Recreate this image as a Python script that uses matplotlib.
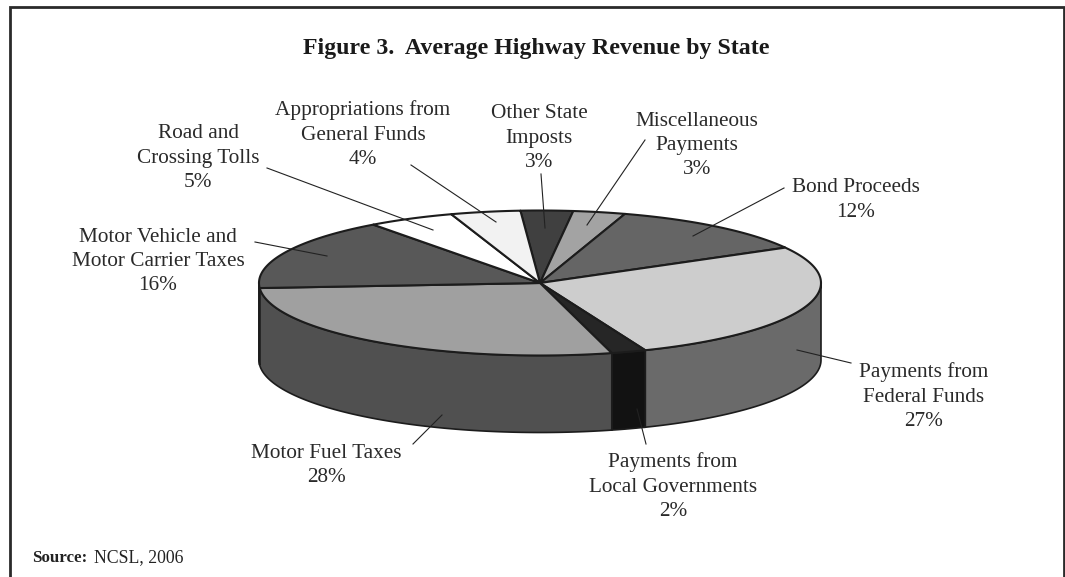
import matplotlib
matplotlib.use('Agg')
import matplotlib.pyplot as plt
import numpy as np

plt.rcParams['font.family'] = ['Liberation Serif', 'DejaVu Serif']

# clockwise from the top of the pie
names = ['Other State\nImposts', 'Miscellaneous\nPayments', 'Bond Proceeds',
         'Payments from\nFederal Funds', 'Payments from\nLocal Governments',
         'Motor Fuel Taxes', 'Motor Vehicle and\nMotor Carrier Taxes',
         'Road and\nCrossing Tolls', 'Appropriations from\nGeneral Funds']
shares = [3, 3, 12, 27, 2, 28, 16, 5, 4]

top_colors = ['#404040', '#a3a3a3', '#656565', '#cdcdcd', '#262626',
              '#a0a0a0', '#585858', '#ffffff', '#f2f2f2']
side_colors = ['#404040', '#a3a3a3', '#656565', '#6a6a6a', '#121212',
               '#505050', '#585858', '#ffffff', '#f2f2f2']

# label centre x, first line y, and leader line
label_x = [539, 697, 856, 924, 673, 326, 158, 198, 363]
label_y = [113, 120, 187, 372, 462, 452, 236, 133, 110]
leaders = [((541, 174), (545, 228)), ((645, 140), (587, 225)),
           ((784, 188), (693, 236)), ((851, 363), (797, 350)),
           ((646, 444), (637, 409)), ((413, 444), (442, 415)),
           ((255, 242), (327, 256)), ((267, 168), (433, 230)),
           ((411, 165), (496, 222))]

cx, cy, rx, ry, depth = 540, 283, 281, 72.5, 77
start = -4.0
line_h = 24.2
ink = '#1c1c1c'


def ellipse(a, dy=0):
    a = np.radians(a)
    return cx + rx * np.sin(a), cy - ry * np.cos(a) + dy


fig = plt.figure(figsize=(10.65, 5.77), dpi=100)
ax = fig.add_axes([0, 0, 1, 1])
ax.set_xlim(0, 1065)
ax.set_ylim(577, 0)
ax.axis('off')

# frame, open at the bottom
ax.plot([10, 10, 1063.5, 1063.5], [577, 7, 7, 577], color='#2a2a2a', lw=2,
        solid_joinstyle='miter')

edges = start + np.cumsum([0] + shares) * 3.6

# side wall, only the part facing the viewer
for i in range(len(shares)):
    a0, a1 = max(edges[i], 90), min(edges[i + 1], 270)
    if a1 <= a0:
        continue
    t = np.linspace(a0, a1, 120)
    x, y = ellipse(t)
    x2, y2 = ellipse(t[::-1], depth)
    ax.fill(np.r_[x, x2], np.r_[y, y2], facecolor=side_colors[i],
            edgecolor=ink, lw=1.2, zorder=2)

# top face
for i in range(len(shares)):
    t = np.linspace(edges[i], edges[i + 1], 120)
    x, y = ellipse(t)
    ax.fill(np.r_[cx, x], np.r_[cy, y], facecolor=top_colors[i],
            edgecolor=ink, lw=1.5, joinstyle='round', zorder=3)

# leader lines and labels
for i in range(len(shares)):
    (x0, y0), (x1, y1) = leaders[i]
    ax.plot([x0, x1], [y0, y1], color='#222222', lw=0.8, zorder=4)
    txt = names[i] + '\n%d%%' % shares[i]
    for j, line in enumerate(txt.split('\n')):
        ax.text(label_x[i], label_y[i] + 5.5 + j * line_h, line, ha='center',
                va='baseline', fontsize=15.3, color='#2a2a2a', zorder=5)

ax.text(536.5, 54, 'Figure 3.  Average Highway Revenue by State', ha='center',
        va='baseline', fontsize=17.2, fontweight='bold', color='#1a1a1a')
ax.text(32, 562, 'Source:', ha='left', va='baseline', fontsize=12.2,
        fontweight='bold', color='#222222')
ax.text(94, 562, 'NCSL, 2006', ha='left', va='baseline', fontsize=12.8,
        color='#222222')

fig.savefig('out.png', dpi=100)
